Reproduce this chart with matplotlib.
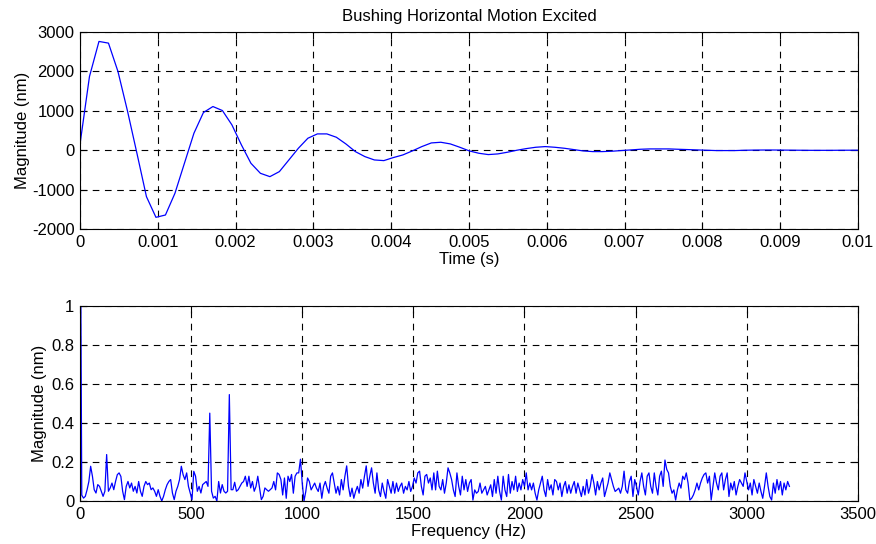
import numpy as np
import matplotlib
matplotlib.use("Agg")
import matplotlib.pyplot as plt

# ── Data ─────────────────────────────────────────────────────────────────────

# time response, sampled at 8192 Hz (one value per sample, nm)
fs = 8192
disp_nm = [
    150, 1873, 2763, 2720, 2000, 1000, -80, -1178, -1703, -1644,
    -1093, -330, 432, 958, 1110, 1008, 644, 136, -330, -585,
    -670, -542, -246, 51, 305, 415, 415, 330, 161, -34,
    -161, -246, -263, -186, -119, -17, 93, 186, 203, 161,
    76, -17, -76, -110, -93, -51, 0, 42, 76, 93,
    76, 51, 17, -17, -34, -34, -25, -8, 8, 25,
    34, 34, 34, 25, 17, 8, 0, -8, -8, -8,
    0, 4, 6, 6, 4, 2, 0, -2, -2, -2,
    0, 1, 1,
]

# magnitude spectrum, 8 Hz bins (nm)
df = 8
spec_nm = [
    # 0 - 392 Hz
    2.0, 0.03, 0.015, 0.024, 0.058, 0.10, 0.178, 0.127, 0.058, 0.041,
    0.084, 0.075, 0.05, 0.024, 0.05, 0.238, 0.05, 0.067, 0.092, 0.058,
    0.10, 0.135, 0.144, 0.126, 0.05, 0.007, 0.075, 0.10, 0.067, 0.092,
    0.05, 0.075, 0.041, 0.10, 0.05, 0.024, 0.075, 0.10, 0.084, 0.092,
    0.058, 0.067, 0.05, 0.024, 0.058, 0.024, 0.0, 0.024, 0.058, 0.084,
    # 400 - 792 Hz
    0.10, 0.11, 0.041, 0.007, 0.05, 0.075, 0.11, 0.178, 0.135, 0.11,
    0.144, 0.075, 0.041, 0.007, 0.152, 0.127, 0.05, 0.075, 0.041, 0.084,
    0.092, 0.10, 0.075, 0.45, 0.05, 0.015, 0.024, 0.0, 0.10, 0.041,
    0.084, 0.05, 0.041, 0.05, 0.545, 0.058, 0.058, 0.096, 0.05, 0.058,
    0.075, 0.092, 0.10, 0.127, 0.075, 0.127, 0.067, 0.10, 0.05, 0.075,
    # 800 - 1192 Hz
    0.127, 0.067, 0.007, 0.024, 0.067, 0.058, 0.05, 0.058, 0.067, 0.10,
    0.057, 0.144, 0.136, 0.11, 0.031, 0.118, 0.014, 0.127, 0.10, 0.136,
    0.04, 0.127, 0.144, 0.144, 0.214, 0.092, 0.0, 0.049, 0.118, 0.10,
    0.057, 0.075, 0.092, 0.066, 0.049, 0.092, 0.014, 0.075, 0.10, 0.066,
    0.04, 0.127, 0.144, 0.092, 0.04, 0.075, 0.031, 0.11, 0.057, 0.127,
    # 1200 - 1592 Hz
    0.18, 0.075, 0.023, 0.066, 0.014, 0.049, 0.075, 0.04, 0.11, 0.066,
    0.127, 0.18, 0.075, 0.127, 0.17, 0.092, 0.04, 0.144, 0.057, 0.023,
    0.092, 0.049, 0.014, 0.11, 0.075, 0.04, 0.10, 0.04, 0.092, 0.049,
    0.075, 0.092, 0.04, 0.075, 0.057, 0.10, 0.049, 0.075, 0.118, 0.092,
    0.144, 0.153, 0.075, 0.031, 0.127, 0.136, 0.092, 0.118, 0.057, 0.144,
    # 1600 - 1992 Hz
    0.057, 0.153, 0.075, 0.057, 0.11, 0.04, 0.092, 0.17, 0.144, 0.11,
    0.057, 0.023, 0.144, 0.075, 0.031, 0.127, 0.057, 0.11, 0.049, 0.092,
    0.11, 0.005, 0.057, 0.04, 0.049, 0.092, 0.04, 0.057, 0.075, 0.031,
    0.057, 0.083, 0.023, 0.11, 0.04, 0.127, 0.049, 0.005, 0.127, 0.057,
    0.023, 0.136, 0.04, 0.10, 0.057, 0.127, 0.049, 0.092, 0.057, 0.11,
    # 2000 - 2392 Hz
    0.075, 0.144, 0.057, 0.092, 0.057, 0.092, 0.04, 0.005, 0.057, 0.092,
    0.127, 0.057, 0.023, 0.11, 0.057, 0.083, 0.031, 0.11, 0.10, 0.057,
    0.092, 0.023, 0.075, 0.10, 0.04, 0.083, 0.04, 0.075, 0.10, 0.04,
    0.092, 0.057, 0.023, 0.075, 0.031, 0.11, 0.04, 0.075, 0.136, 0.092,
    0.031, 0.10, 0.057, 0.092, 0.118, 0.023, 0.057, 0.092, 0.144, 0.11,
    # 2400 - 2792 Hz
    0.075, 0.049, 0.057, 0.066, 0.04, 0.075, 0.153, 0.057, 0.04, 0.10,
    0.127, 0.023, 0.11, 0.075, 0.031, 0.10, 0.144, 0.075, 0.031, 0.127,
    0.144, 0.075, 0.04, 0.144, 0.075, 0.031, 0.127, 0.153, 0.075, 0.21,
    0.162, 0.144, 0.075, 0.04, 0.057, 0.005, 0.057, 0.092, 0.066, 0.127,
    0.11, 0.144, 0.092, 0.005, 0.014, 0.031, 0.057, 0.092, 0.057, 0.092,
    # 2800 - 3192 Hz
    0.118, 0.136, 0.144, 0.092, 0.127, 0.005, 0.075, 0.144, 0.092, 0.057,
    0.127, 0.144, 0.057, 0.11, 0.144, 0.023, 0.092, 0.057, 0.10, 0.031,
    0.075, 0.11, 0.092, 0.075, 0.144, 0.10, 0.057, 0.092, 0.031, 0.11,
    0.075, 0.04, 0.092, 0.049, 0.014, 0.075, 0.144, 0.075, 0.023, 0.005,
    0.092, 0.04, 0.11, 0.057, 0.10, 0.031, 0.092, 0.057, 0.10, 0.075,
]

title_txt = "Bushing Horizontal Motion Excited"

# ── Plot ─────────────────────────────────────────────────────────────────────

plt.rcParams["font.family"] = ["Liberation Sans", "DejaVu Sans"]
plt.rcParams["font.size"] = 12
plt.rcParams["axes.unicode_minus"] = False  # plain hyphen like MATLAB

t = np.arange(len(disp_nm)) / fs
f = np.arange(len(spec_nm)) * df

fig = plt.figure(figsize=(8.76, 5.44), dpi=100)
ax1 = fig.add_axes([0.0913, 0.579, 0.888, 0.362])
ax2 = fig.add_axes([0.0913, 0.079, 0.888, 0.359])


def matlab_style(ax):
    ax.grid(True, color="black", linestyle=(0, (6, 5)), linewidth=0.8)
    ax.tick_params(direction="in", top=True, right=True, length=5,
                   width=0.8, labelsize=12, pad=4)
    for sp in ax.spines.values():
        sp.set_linewidth(0.8)


ax1.plot(t, disp_nm, color="blue", linewidth=0.9)
ax1.set_xlim(0, 0.01)
ax1.set_ylim(-2000, 3000)
ax1.set_xticks(np.arange(0, 0.0101, 0.001))
ax1.set_xticklabels(["0"] + [f"{v:g}" for v in np.round(np.arange(0.001, 0.0101, 0.001), 3)])
ax1.set_yticks(np.arange(-2000, 3001, 1000))
ax1.set_xlabel("Time (s)", labelpad=2)
ax1.set_ylabel("Magnitude (nm)", labelpad=1)
ax1.set_title(title_txt, fontsize=12, pad=8)
matlab_style(ax1)

ax2.plot(f, spec_nm, color="blue", linewidth=0.9)
ax2.set_xlim(0, 3500)
ax2.set_ylim(0, 1)
ax2.set_xticks(np.arange(0, 3501, 500))
ax2.set_yticks(np.arange(0, 1.01, 0.2))
ax2.set_yticklabels(["0", "0.2", "0.4", "0.6", "0.8", "1"])
ax2.set_xlabel("Frequency (Hz)", labelpad=2)
ax2.set_ylabel("Magnitude (nm)", labelpad=3)
matlab_style(ax2)

fig.savefig("out.png", dpi=100)
